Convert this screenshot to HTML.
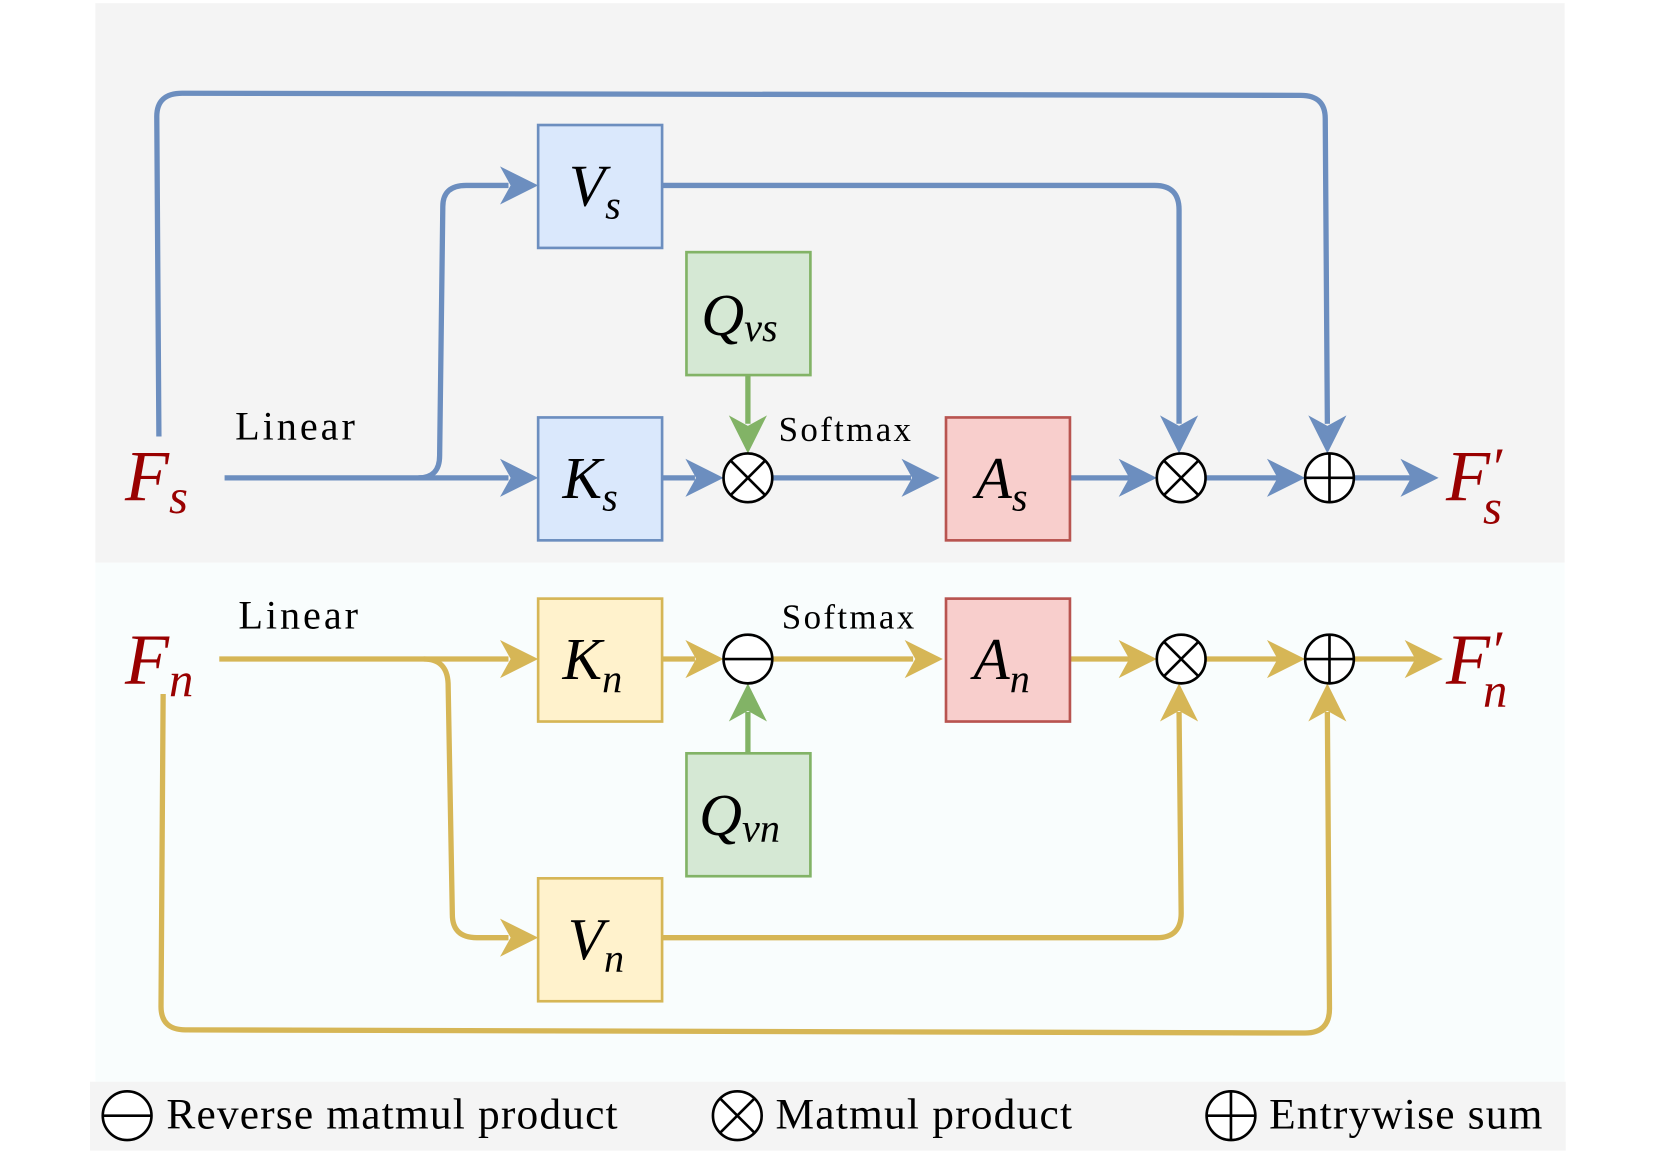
<!DOCTYPE html>
<html><head><meta charset="utf-8"><style>
html,body{margin:0;padding:0;background:#fff}
svg{display:block}
text{font-family:"Liberation Serif",serif}
.m{font-style:italic;fill:#000}
.r{font-style:italic;fill:#990000}
</style></head><body>
<svg width="1660" height="1175" viewBox="0 0 1567 1109" preserveAspectRatio="none" xmlns="http://www.w3.org/2000/svg">
<rect x="90" y="3" width="1387" height="528" fill="#f4f4f4"/>
<rect x="90" y="531" width="1387" height="490" fill="#f9fdfd"/>
<rect x="85" y="1021" width="1393" height="65" fill="#f4f4f4"/>

<g fill="none" stroke="#6c8ebf" stroke-width="5" stroke-linejoin="round">
<path d="M212 451 H480"/>
<path d="M395 451 Q415 451 415 430 L418 195 Q418 175 440 175 H480"/>
<path d="M150 412 L148 110 Q148 88 172 88 L1228 90 Q1251 90 1251 112 L1253 400"/>
<path d="M625 175 H1090 Q1113 175 1113 198 V400"/>
<path d="M625 451 H656"/><path d="M729 451 H860"/><path d="M1010 451 H1066"/><path d="M1138 451 H1206"/><path d="M1278 451 H1332"/>
</g>
<g fill="#6c8ebf">
<path d="M508 451 L472 433 L482 451 L472 469Z"/>
<path d="M508 175 L472 157 L482 175 L472 193Z"/>
<path d="M683 451 L647 433 L657 451 L647 469Z"/>
<path d="M887 451 L851 433 L861 451 L851 469Z"/>
<path d="M1092 451 L1056 433 L1066 451 L1056 469Z"/>
<path d="M1232 451 L1196 433 L1206 451 L1196 469Z"/>
<path d="M1358 451 L1322 433 L1332 451 L1322 469Z"/>
<path d="M1113 428 L1095 392 L1113 402 L1131 392Z"/>
<path d="M1253 428 L1235 392 L1253 402 L1271 392Z"/>
</g>

<g fill="none" stroke="#d6b656" stroke-width="5" stroke-linejoin="round">
<path d="M207 622 H480"/>
<path d="M400 622 Q422 622 423 645 L427 863 Q427 885 450 885 H480"/>
<path d="M625 622 H656"/><path d="M729 622 H862"/><path d="M1010 622 H1066"/><path d="M1138 622 H1206"/><path d="M1278 622 H1336"/>
<path d="M625 885 H1092 Q1115 885 1115 862 L1113 672"/>
<path d="M154 655 L152 950 Q152 972 175 972 L1232 975 Q1255 975 1255 952 L1253 672"/>
</g>
<g fill="#d6b656">
<path d="M508 622 L472 604 L482 622 L472 640Z"/>
<path d="M508 885 L472 867 L482 885 L472 903Z"/>
<path d="M683 622 L647 604 L657 622 L647 640Z"/>
<path d="M890 622 L854 604 L864 622 L854 640Z"/>
<path d="M1092 622 L1056 604 L1066 622 L1056 640Z"/>
<path d="M1232 622 L1196 604 L1206 622 L1196 640Z"/>
<path d="M1362 622 L1326 604 L1336 622 L1326 640Z"/>
<path d="M1113 645 L1095 681 L1113 671 L1131 681Z"/>
<path d="M1253 645 L1235 681 L1253 671 L1271 681Z"/>
</g>

<g stroke="#82b366" stroke-width="5" fill="#82b366">
<path d="M706 354 V400" fill="none"/>
<path d="M706 711 V672" fill="none"/>
<path d="M706 428 L688 392 L706 402 L724 392Z" stroke="none"/>
<path d="M706 645 L688 681 L706 671 L724 681Z" stroke="none"/>
</g>

<g stroke-width="2.5">
<rect x="508" y="118" width="117" height="116" fill="#dae8fc" stroke="#6c8ebf"/>
<rect x="508" y="394" width="117" height="116" fill="#dae8fc" stroke="#6c8ebf"/>
<rect x="648" y="238" width="117" height="116" fill="#d5e8d4" stroke="#82b366"/>
<rect x="893" y="394" width="117" height="116" fill="#f8cecc" stroke="#b85450"/>
<rect x="508" y="565" width="117" height="116" fill="#fff2cc" stroke="#d6b656"/>
<rect x="893" y="565" width="117" height="116" fill="#f8cecc" stroke="#b85450"/>
<rect x="648" y="711" width="117" height="116" fill="#d5e8d4" stroke="#82b366"/>
<rect x="508" y="829" width="117" height="116" fill="#fff2cc" stroke="#d6b656"/>
</g>

<g fill="#fff" stroke="#000" stroke-width="2.5">
<circle cx="706" cy="451" r="23"/><path d="M690 435 L722 467 M722 435 L690 467"/>
<circle cx="1115" cy="451" r="23"/><path d="M1099 435 L1131 467 M1131 435 L1099 467"/>
<circle cx="1255" cy="451" r="23"/><path d="M1232 451 H1278 M1255 428 V474"/>
<circle cx="706" cy="622" r="23"/><path d="M683 622 H729"/>
<circle cx="1115" cy="622" r="23"/><path d="M1099 606 L1131 638 M1131 606 L1099 638"/>
<circle cx="1255" cy="622" r="23"/><path d="M1232 622 H1278 M1255 599 V645"/>
<circle cx="120" cy="1053" r="23"/><path d="M97 1053 H143"/>
<circle cx="696" cy="1053" r="23"/><path d="M680 1037 L712 1069 M712 1037 L680 1069"/>
<circle cx="1162" cy="1053" r="23"/><path d="M1139 1053 H1185 M1162 1030 V1076"/>
</g>

<g font-size="56">
<text x="537" y="194" class="m">V<tspan font-size="38" dy="12">s</tspan></text>
<text x="531" y="470" class="m">K<tspan font-size="38" dy="12">s</tspan></text>
<text x="662" y="316" class="m">Q<tspan font-size="38" dy="6">vs</tspan></text>
<text x="921" y="470" class="m">A<tspan font-size="38" dy="12">s</tspan></text>
<text x="531" y="641" class="m">K<tspan font-size="38" dy="12">n</tspan></text>
<text x="919" y="641" class="m">A<tspan font-size="38" dy="12">n</tspan></text>
<text x="660" y="788" class="m">Q<tspan font-size="38" dy="6">vn</tspan></text>
<text x="536" y="905" class="m">V<tspan font-size="38" dy="12">n</tspan></text>
</g>
<g font-size="68">
<text x="118" y="472" class="r">F<tspan font-size="46" dy="12">s</tspan></text>
<text x="118" y="645" class="r">F<tspan font-size="46" dy="12">n</tspan></text>
<text x="1365" y="472" class="r">F<tspan font-size="52" dy="-14">′</tspan><tspan font-size="46" dx="-18" dy="36">s</tspan></text>
<text x="1365" y="645" class="r">F<tspan font-size="52" dy="-14">′</tspan><tspan font-size="46" dx="-18" dy="36">n</tspan></text>
</g>
<g font-size="38" fill="#000">
<text x="222" y="415" textLength="113">Linear</text>
<text x="225" y="593" textLength="113">Linear</text>
</g>
<g font-size="33" fill="#000">
<text x="735" y="416" textLength="125">Softmax</text>
<text x="738" y="593" textLength="125">Softmax</text>
</g>
<g font-size="41" fill="#000">
<text x="157" y="1065" textLength="426">Reverse matmul product</text>
<text x="732" y="1065" textLength="280">Matmul product</text>
<text x="1198" y="1065" textLength="258">Entrywise sum</text>
</g>
</svg>
</body></html>
